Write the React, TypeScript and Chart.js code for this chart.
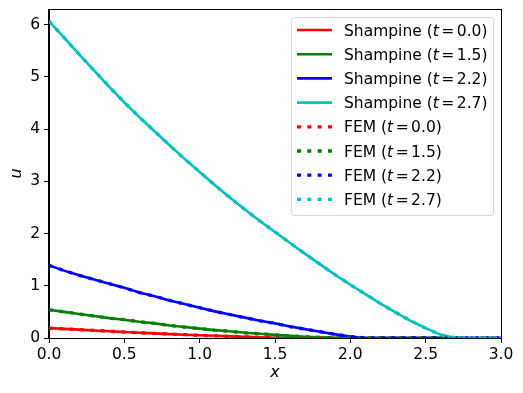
import React, { useEffect, useRef } from 'react';
import { Chart, registerables } from 'chart.js';

Chart.register(...registerables);

// x grid (0.0 .. 3.0, step 0.1)
const xs = [
  0.0, 0.1, 0.2, 0.3, 0.4, 0.5, 0.6, 0.7, 0.8, 0.9, 1.0,
  1.1, 1.2, 1.3, 1.4, 1.5, 1.6, 1.7, 1.8, 1.9, 2.0,
  2.1, 2.2, 2.3, 2.4, 2.5, 2.6, 2.7, 2.8, 2.9, 3.0,
];

const times = ['0.0', '1.5', '2.2', '2.7'];
const colors = ['#ff0000', '#008000', '#0000ff', '#00bfbf'];

// Shampine solution u(x, t)
const shampineT00 = [
  0.19, 0.175, 0.16, 0.145, 0.13, 0.115, 0.1, 0.088, 0.075, 0.063, 0.052,
  0.042, 0.032, 0.022, 0.013, 0.005, 0, 0, 0, 0, 0,
  0, 0, 0, 0, 0, 0, 0, 0, 0, 0,
];
const shampineT15 = [
  0.54, 0.5, 0.46, 0.42, 0.38, 0.35, 0.31, 0.28, 0.24, 0.21, 0.18,
  0.15, 0.13, 0.1, 0.08, 0.06, 0.04, 0.025, 0.012, 0.004, 0,
  0, 0, 0, 0, 0, 0, 0, 0, 0, 0,
];
const shampineT22 = [
  1.39, 1.29, 1.2, 1.12, 1.04, 0.96, 0.87, 0.8, 0.72, 0.65, 0.58,
  0.51, 0.45, 0.39, 0.33, 0.28, 0.22, 0.17, 0.12, 0.07, 0.03,
  0, 0, 0, 0, 0, 0, 0, 0, 0, 0,
];
const shampineT27 = [
  6.07, 5.75, 5.43, 5.12, 4.81, 4.51, 4.23, 3.96, 3.69, 3.43, 3.18,
  2.93, 2.69, 2.46, 2.24, 2.03, 1.82, 1.61, 1.41, 1.21, 1.02,
  0.84, 0.66, 0.49, 0.33, 0.19, 0.06, 0, 0, 0, 0,
];

// FEM solution u(x, t) (visually identical to Shampine)
const femT00 = [...shampineT00];
const femT15 = [...shampineT15];
const femT22 = [...shampineT22];
const femT27 = [...shampineT27];

const FAMILY = '"DejaVu Sans", "Liberation Sans", sans-serif';
const FS = 15.5;

const framePlugin = {
  id: 'mplFrame',
  afterDatasetsDraw(chart: any) {
    const { ctx, chartArea } = chart;
    ctx.save();
    ctx.strokeStyle = '#000';
    ctx.lineWidth = 1;
    ctx.setLineDash([]);
    const l = Math.round(chartArea.left) - 0.5;
    const t = Math.round(chartArea.top) + 0.5;
    const r = Math.round(chartArea.right) + 0.5;
    const b = Math.round(chartArea.bottom) + 0.5;
    ctx.strokeRect(l, t, r - l, b - t);
    ctx.restore();
  },
};

const legendPlugin = {
  id: 'mplLegend',
  afterDraw(chart: any) {
    const { ctx, chartArea } = chart;
    const datasets = chart.data.datasets;
    const rowH = 24.2;
    const w = 202;
    const h = 198;
    const bx = Math.round(chartArea.right - 8 - w);
    const by = Math.round(chartArea.top + 8);
    ctx.save();
    ctx.beginPath();
    if ((ctx as any).roundRect) {
      (ctx as any).roundRect(bx + 0.5, by + 0.5, w, h, 3);
    } else {
      ctx.rect(bx + 0.5, by + 0.5, w, h);
    }
    ctx.fillStyle = 'rgba(255,255,255,0.8)';
    ctx.fill();
    ctx.strokeStyle = 'rgba(204,204,204,0.8)';
    ctx.lineWidth = 1;
    ctx.stroke();

    const normal = `${FS}px ${FAMILY}`;
    const italic = `italic ${FS}px ${FAMILY}`;
    ctx.textBaseline = 'alphabetic';
    ctx.textAlign = 'left';

    datasets.forEach((ds: any, i: number) => {
      const cy = by + 13 + i * rowH;
      ctx.beginPath();
      ctx.setLineDash(ds.borderDash || []);
      ctx.lineCap = 'butt';
      ctx.lineWidth = ds.borderWidth;
      ctx.strokeStyle = ds.borderColor;
      ctx.moveTo(bx + 6, cy);
      ctx.lineTo(bx + 41, cy);
      ctx.stroke();
      ctx.setLineDash([]);

      const label: string = ds.label;
      const m = /^(.*\()t = (.*)$/.exec(label);
      let x = bx + 53;
      const ty = cy + 5.5;
      ctx.fillStyle = '#000';
      if (m) {
        ctx.font = normal;
        ctx.fillText(m[1], x, ty);
        x += ctx.measureText(m[1]).width;
        ctx.font = italic;
        ctx.fillText('t', x, ty);
        x += ctx.measureText('t').width + 2.5;
        ctx.font = normal;
        ctx.fillText('=', x, ty);
        x += ctx.measureText('=').width + 2.5;
        ctx.fillText(m[2], x, ty);
      } else {
        ctx.font = normal;
        ctx.fillText(label, x, ty);
      }
    });
    ctx.restore();
  },
};

export default function App() {
  const ref = useRef<HTMLCanvasElement>(null);

  useEffect(() => {
    const canvas = ref.current;
    if (!canvas) return;
    const shampine = [shampineT00, shampineT15, shampineT22, shampineT27];
    const fem = [femT00, femT15, femT22, femT27];
    const datasets: any[] = [];
    shampine.forEach((s, i) => {
      datasets.push({
        label: `Shampine (t = ${times[i]})`,
        data: xs.map((x, j) => ({ x, y: s[j] })),
        borderColor: colors[i],
        backgroundColor: colors[i],
        borderWidth: 2.6,
        pointRadius: 0,
        tension: 0,
        fill: false,
        clip: 0,
        order: 7 - i,
      });
    });
    fem.forEach((s, i) => {
      datasets.push({
        label: `FEM (t = ${times[i]})`,
        data: xs.map((x, j) => ({ x, y: s[j] })),
        borderColor: colors[i],
        backgroundColor: colors[i],
        borderWidth: 3.3,
        borderDash: [4, 6.33],
        borderCapStyle: 'butt',
        pointRadius: 0,
        tension: 0,
        fill: false,
        clip: 0,
        order: 3 - i,
      });
    });

    const tickFont = { family: FAMILY, size: FS };
    const titleFont = { family: FAMILY, size: 16, style: 'italic' as const };

    const chart = new Chart(canvas, {
      type: 'line',
      data: { datasets },
      options: {
        responsive: false,
        animation: false,
        events: [],
        layout: { padding: { top: 9, right: 22, left: 0, bottom: 0 } },
        plugins: {
          legend: { display: false },
          tooltip: { enabled: false },
        },
        scales: {
          x: {
            type: 'linear',
            min: 0,
            max: 3,
            afterFit: (s: any) => {
              s.height = 55;
              s.paddingLeft = 0;
              s.paddingRight = 0;
            },
            ticks: {
              stepSize: 0.5,
              includeBounds: false,
              color: '#000',
              font: tickFont,
              padding: 3,
              maxRotation: 0,
              autoSkip: false,
              callback: (v: any) => Number(v).toFixed(1),
            },
            grid: {
              display: true,
              drawOnChartArea: false,
              drawTicks: true,
              tickLength: 5,
              color: '#000',
            },
            border: { display: true, color: '#000', width: 1 },
            title: {
              display: true,
              text: 'x',
              color: '#000',
              font: titleFont,
              padding: { top: 0, bottom: 11 },
            },
          },
          y: {
            type: 'linear',
            min: 0,
            max: 6.3,
            afterFit: (s: any) => {
              s.width = 49;
              s.paddingTop = 0;
              s.paddingBottom = 0;
            },
            afterBuildTicks: (s: any) => {
              s.ticks = s.ticks.filter((t: any) => Number.isInteger(t.value));
            },
            ticks: {
              stepSize: 1,
              includeBounds: false,
              color: '#000',
              font: tickFont,
              padding: 4,
              autoSkip: false,
              callback: (v: any) => String(v),
            },
            grid: {
              display: true,
              drawOnChartArea: false,
              drawTicks: true,
              tickLength: 5,
              color: '#000',
            },
            border: { display: true, color: '#000', width: 1 },
            title: {
              display: true,
              text: 'u',
              color: '#000',
              font: titleFont,
              padding: { top: 7, bottom: 0 },
            },
          },
        },
      },
      plugins: [framePlugin, legendPlugin],
    } as any);

    return () => {
      chart.destroy();
    };
  }, []);

  return (
    <div style={{ position: 'fixed', left: 0, top: 0, width: 523, height: 393, background: '#fff' }}>
      <canvas ref={ref} width={523} height={393} style={{ display: 'block', width: 523, height: 393 }} />
    </div>
  );
}
